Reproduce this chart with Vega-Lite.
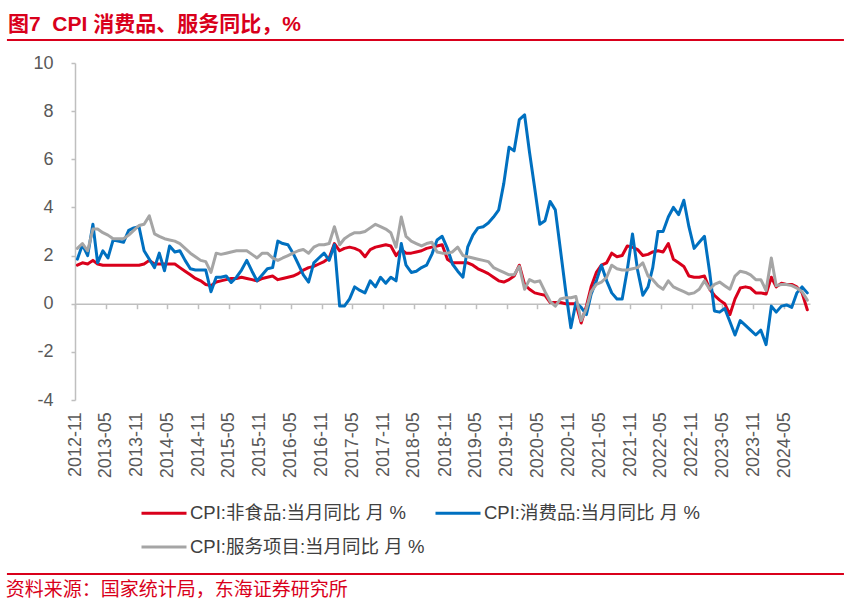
{
  "$schema": "https://vega.github.io/schema/vega-lite/v6.json",
  "width": 735,
  "height": 337,
  "autosize": {"type": "none"},
  "padding": {"left": 75, "top": 63, "right": 42, "bottom": 207},
  "background": "white",
  "config": {
    "view": {"stroke": null},
    "font": "Liberation Sans, Noto Sans CJK SC, sans-serif"
  },
  "title": {
    "text": "图7\u00a0 CPI 消费品、服务同比，%",
    "anchor": "start",
    "frame": "group",
    "dx": -67,
    "offset": 4,
    "fontSize": 21,
    "fontWeight": "bold",
    "color": "#d9001b",
    "font": "Liberation Sans, Noto Sans CJK SC, sans-serif"
  },
  "resolve": {"axis": {"x": "independent", "y": "independent"}},
  "layer": [
    {
      "data": {
        "values": [
          {"date": "2012-11-15", "非食品": 1.6, "消费品": 1.85, "服务项目": 2.3},
          {"date": "2012-12-15", "非食品": 1.7, "消费品": 2.45, "服务项目": 2.5},
          {"date": "2013-01-15", "非食品": 1.65, "消费品": 2.0, "服务项目": 2.2},
          {"date": "2013-02-15", "非食品": 1.8, "消费品": 3.3, "服务项目": 3.1},
          {"date": "2013-03-15", "非食品": 1.65, "消费品": 1.7, "服务项目": 3.1},
          {"date": "2013-04-15", "非食品": 1.6, "消费品": 2.2, "服务项目": 2.95},
          {"date": "2013-05-15", "非食品": 1.6, "消费品": 1.9, "服务项目": 2.85},
          {"date": "2013-06-15", "非食品": 1.6, "消费品": 2.65, "服务项目": 2.7},
          {"date": "2013-07-15", "非食品": 1.6, "消费品": 2.6, "服务项目": 2.7},
          {"date": "2013-08-15", "非食品": 1.6, "消费品": 2.55, "服务项目": 2.7},
          {"date": "2013-09-15", "非食品": 1.6, "消费品": 3.05, "服务项目": 2.85},
          {"date": "2013-10-15", "非食品": 1.6, "消费品": 3.15, "服务项目": 3.05},
          {"date": "2013-11-15", "非食品": 1.6, "消费品": 3.2, "服务项目": 3.25},
          {"date": "2013-12-15", "非食品": 1.65, "消费品": 2.2, "服务项目": 3.3},
          {"date": "2014-01-15", "非食品": 1.8, "消费品": 1.85, "服务项目": 3.65},
          {"date": "2014-02-15", "非食品": 1.65, "消费品": 1.5, "服务项目": 2.9},
          {"date": "2014-03-15", "非食品": 1.65, "消费品": 2.1, "服务项目": 2.8},
          {"date": "2014-04-15", "非食品": 1.65, "消费品": 1.37, "服务项目": 2.7},
          {"date": "2014-05-15", "非食品": 1.65, "消费品": 2.4, "服务项目": 2.65},
          {"date": "2014-06-15", "非食品": 1.65, "消费品": 2.15, "服务项目": 2.6},
          {"date": "2014-07-15", "非食品": 1.5, "消费品": 2.2, "服务项目": 2.5},
          {"date": "2014-08-15", "非食品": 1.35, "消费品": 1.8, "服务项目": 2.3},
          {"date": "2014-09-15", "非食品": 1.2, "消费品": 1.45, "服务项目": 2.1},
          {"date": "2014-10-15", "非食品": 1.05, "消费品": 1.4, "服务项目": 1.95},
          {"date": "2014-11-15", "非食品": 0.95, "消费品": 1.4, "服务项目": 1.8},
          {"date": "2014-12-15", "非食品": 0.8, "消费品": 1.4, "服务项目": 1.75},
          {"date": "2015-01-15", "非食品": 0.75, "消费品": 0.5, "服务项目": 1.3},
          {"date": "2015-02-15", "非食品": 0.9, "消费品": 1.1, "服务项目": 2.1},
          {"date": "2015-03-15", "非食品": 0.95, "消费品": 1.1, "服务项目": 2.05},
          {"date": "2015-04-15", "非食品": 1.0, "消费品": 1.15, "服务项目": 2.1},
          {"date": "2015-05-15", "非食品": 1.05, "消费品": 0.88, "服务项目": 2.15},
          {"date": "2015-06-15", "非食品": 1.05, "消费品": 1.1, "服务项目": 2.2},
          {"date": "2015-07-15", "非食品": 1.1, "消费品": 1.4, "服务项目": 2.2},
          {"date": "2015-08-15", "非食品": 1.05, "消费品": 1.8, "服务项目": 2.2},
          {"date": "2015-09-15", "非食品": 1.0, "消费品": 1.35, "服务项目": 2.05},
          {"date": "2015-10-15", "非食品": 0.95, "消费品": 0.95, "服务项目": 1.9},
          {"date": "2015-11-15", "非食品": 1.05, "消费品": 1.2, "服务项目": 2.1},
          {"date": "2015-12-15", "非食品": 1.1, "消费品": 1.45, "服务项目": 2.1},
          {"date": "2016-01-15", "非食品": 1.15, "消费品": 1.5, "服务项目": 1.9},
          {"date": "2016-02-15", "非食品": 1.0, "消费品": 2.6, "服务项目": 1.8},
          {"date": "2016-03-15", "非食品": 1.05, "消费品": 2.5, "服务项目": 1.9},
          {"date": "2016-04-15", "非食品": 1.1, "消费品": 2.45, "服务项目": 2.0},
          {"date": "2016-05-15", "非食品": 1.15, "消费品": 2.1, "服务项目": 2.1},
          {"date": "2016-06-15", "非食品": 1.25, "消费品": 1.65, "服务项目": 2.2},
          {"date": "2016-07-15", "非食品": 1.4, "消费品": 1.2, "服务项目": 2.25},
          {"date": "2016-08-15", "非食品": 1.5, "消费品": 0.9, "服务项目": 2.1},
          {"date": "2016-09-15", "非食品": 1.55, "消费品": 1.7, "服务项目": 2.35},
          {"date": "2016-10-15", "非食品": 1.65, "消费品": 1.9, "服务项目": 2.45},
          {"date": "2016-11-15", "非食品": 1.75, "消费品": 2.1, "服务项目": 2.45},
          {"date": "2016-12-15", "非食品": 1.9, "消费品": 1.8, "服务项目": 2.5},
          {"date": "2017-01-15", "非食品": 2.5, "消费品": 2.45, "服务项目": 3.2},
          {"date": "2017-02-15", "非食品": 2.2, "消费品": -0.1, "服务项目": 2.45},
          {"date": "2017-03-15", "非食品": 2.3, "消费品": -0.1, "服务项目": 2.7},
          {"date": "2017-04-15", "非食品": 2.35, "消费品": 0.2, "服务项目": 2.85},
          {"date": "2017-05-15", "非食品": 2.3, "消费品": 0.7, "服务项目": 2.95},
          {"date": "2017-06-15", "非食品": 2.2, "消费品": 0.55, "服务项目": 2.95},
          {"date": "2017-07-15", "非食品": 1.95, "消费品": 0.45, "服务项目": 3.0},
          {"date": "2017-08-15", "非食品": 2.25, "消费品": 0.95, "服务项目": 3.15},
          {"date": "2017-09-15", "非食品": 2.35, "消费品": 0.7, "服务项目": 3.3},
          {"date": "2017-10-15", "非食品": 2.4, "消费品": 1.1, "服务项目": 3.2},
          {"date": "2017-11-15", "非食品": 2.45, "消费品": 0.85, "服务项目": 3.1},
          {"date": "2017-12-15", "非食品": 2.4, "消费品": 1.1, "服务项目": 2.95},
          {"date": "2018-01-15", "非食品": 2.0, "消费品": 0.95, "服务项目": 2.35},
          {"date": "2018-02-15", "非食品": 2.25, "消费品": 2.5, "服务项目": 3.6},
          {"date": "2018-03-15", "非食品": 2.1, "消费品": 1.6, "服务项目": 2.8},
          {"date": "2018-04-15", "非食品": 2.1, "消费品": 1.3, "服务项目": 2.6},
          {"date": "2018-05-15", "非食品": 2.15, "消费品": 1.35, "服务项目": 2.5},
          {"date": "2018-06-15", "非食品": 2.2, "消费品": 1.5, "服务项目": 2.4},
          {"date": "2018-07-15", "非食品": 2.3, "消费品": 1.6, "服务项目": 2.5},
          {"date": "2018-08-15", "非食品": 2.35, "消费品": 2.05, "服务项目": 2.55},
          {"date": "2018-09-15", "非食品": 2.4, "消费品": 2.65, "服务项目": 2.15},
          {"date": "2018-10-15", "非食品": 2.45, "消费品": 2.8, "服务项目": 2.1},
          {"date": "2018-11-15", "非食品": 1.85, "消费品": 2.3, "服务项目": 2.1},
          {"date": "2018-12-15", "非食品": 1.7, "消费品": 1.65, "服务项目": 2.15},
          {"date": "2019-01-15", "非食品": 1.7, "消费品": 1.35, "服务项目": 2.35},
          {"date": "2019-02-15", "非食品": 1.7, "消费品": 1.1, "服务项目": 2.0},
          {"date": "2019-03-15", "非食品": 1.7, "消费品": 2.35, "服务项目": 1.95},
          {"date": "2019-04-15", "非食品": 1.6, "消费品": 2.85, "服务项目": 1.9},
          {"date": "2019-05-15", "非食品": 1.45, "消费品": 3.15, "服务项目": 1.85},
          {"date": "2019-06-15", "非食品": 1.35, "消费品": 3.2, "服务项目": 1.8},
          {"date": "2019-07-15", "非食品": 1.25, "消费品": 3.35, "服务项目": 1.75},
          {"date": "2019-08-15", "非食品": 1.1, "消费品": 3.6, "服务项目": 1.5},
          {"date": "2019-09-15", "非食品": 0.95, "消费品": 3.9, "服务项目": 1.4},
          {"date": "2019-10-15", "非食品": 0.9, "消费品": 5.0, "服务项目": 1.3},
          {"date": "2019-11-15", "非食品": 1.0, "消费品": 6.5, "服务项目": 1.2},
          {"date": "2019-12-15", "非食品": 1.15, "消费品": 6.35, "服务项目": 1.2},
          {"date": "2020-01-15", "非食品": 1.6, "消费品": 7.65, "服务项目": 1.55},
          {"date": "2020-02-15", "非食品": 0.8, "消费品": 7.85, "服务项目": 0.6},
          {"date": "2020-03-15", "非食品": 0.6, "消费品": 6.3, "服务项目": 1.0},
          {"date": "2020-04-15", "非食品": 0.45, "消费品": 4.8, "服务项目": 0.9},
          {"date": "2020-05-15", "非食品": 0.4, "消费品": 3.3, "服务项目": 0.95},
          {"date": "2020-06-15", "非食品": 0.35, "消费品": 3.45, "服务项目": 0.5},
          {"date": "2020-07-15", "非食品": 0.05, "消费品": 4.25, "服务项目": 0.1},
          {"date": "2020-08-15", "非食品": 0.05, "消费品": 3.9, "服务项目": -0.1},
          {"date": "2020-09-15", "非食品": 0.05, "消费品": 2.2, "服务项目": 0.2},
          {"date": "2020-10-15", "非食品": 0.0, "消费品": 0.55, "服务项目": 0.25},
          {"date": "2020-11-15", "非食品": 0.0, "消费品": -1.0, "服务项目": 0.25},
          {"date": "2020-12-15", "非食品": 0.0, "消费品": 0.05, "服务项目": 0.3},
          {"date": "2021-01-15", "非食品": -0.8, "消费品": -0.15, "服务项目": -0.7},
          {"date": "2021-02-15", "非食品": -0.1, "消费品": -0.45, "服务项目": -0.2},
          {"date": "2021-03-15", "非食品": 0.7, "消费品": 0.4, "服务项目": 0.5},
          {"date": "2021-04-15", "非食品": 1.3, "消费品": 0.95, "服务项目": 0.8},
          {"date": "2021-05-15", "非食品": 1.6, "消费品": 1.6, "服务项目": 0.9},
          {"date": "2021-06-15", "非食品": 1.7, "消费品": 0.95, "服务项目": 1.1},
          {"date": "2021-07-15", "非食品": 2.1, "消费品": 0.45, "服务项目": 1.6},
          {"date": "2021-08-15", "非食品": 1.95, "消费品": 0.2, "服务项目": 1.45},
          {"date": "2021-09-15", "非食品": 2.0, "消费品": 0.2, "服务项目": 1.4},
          {"date": "2021-10-15", "非食品": 2.4, "消费品": 1.4, "服务项目": 1.4},
          {"date": "2021-11-15", "非食品": 2.35, "消费品": 2.9, "服务项目": 1.45},
          {"date": "2021-12-15", "非食品": 2.25, "消费品": 1.4, "服务项目": 1.5},
          {"date": "2022-01-15", "非食品": 2.0, "消费品": 0.35, "服务项目": 1.7},
          {"date": "2022-02-15", "非食品": 2.05, "消费品": 0.7, "服务项目": 1.15},
          {"date": "2022-03-15", "非食品": 2.15, "消费品": 1.5, "服务项目": 1.0},
          {"date": "2022-04-15", "非食品": 2.2, "消费品": 3.0, "服务项目": 0.75},
          {"date": "2022-05-15", "非食品": 2.15, "消费品": 3.0, "服务项目": 0.6},
          {"date": "2022-06-15", "非食品": 2.5, "消费品": 3.6, "服务项目": 0.95},
          {"date": "2022-07-15", "非食品": 1.85, "消费品": 4.0, "服务项目": 0.7},
          {"date": "2022-08-15", "非食品": 1.7, "消费品": 3.7, "服务项目": 0.6},
          {"date": "2022-09-15", "非食品": 1.55, "消费品": 4.3, "服务项目": 0.5},
          {"date": "2022-10-15", "非食品": 1.15, "消费品": 3.2, "服务项目": 0.4},
          {"date": "2022-11-15", "非食品": 1.1, "消费品": 2.3, "服务项目": 0.45},
          {"date": "2022-12-15", "非食品": 1.1, "消费品": 2.55, "服务项目": 0.6},
          {"date": "2023-01-15", "非食品": 1.15, "消费品": 2.8, "服务项目": 0.95},
          {"date": "2023-02-15", "非食品": 0.6, "消费品": 1.3, "服务项目": 0.6},
          {"date": "2023-03-15", "非食品": 0.35, "消费品": -0.3, "服务项目": 0.8},
          {"date": "2023-04-15", "非食品": 0.15, "消费品": -0.35, "服务项目": 0.9},
          {"date": "2023-05-15", "非食品": 0.0, "消费品": -0.2, "服务项目": 0.75},
          {"date": "2023-06-15", "非食品": -0.45, "消费品": -0.75, "服务项目": 0.6},
          {"date": "2023-07-15", "非食品": 0.2, "消费品": -1.3, "服务项目": 1.15},
          {"date": "2023-08-15", "非食品": 0.65, "消费品": -0.7, "服务项目": 1.35},
          {"date": "2023-09-15", "非食品": 0.7, "消费品": -0.9, "服务项目": 1.3},
          {"date": "2023-10-15", "非食品": 0.65, "消费品": -1.1, "服务项目": 1.2},
          {"date": "2023-11-15", "非食品": 0.45, "消费品": -1.3, "服务项目": 1.0},
          {"date": "2023-12-15", "非食品": 0.45, "消费品": -1.1, "服务项目": 1.0},
          {"date": "2024-01-15", "非食品": 0.4, "消费品": -1.7, "服务项目": 0.55},
          {"date": "2024-02-15", "非食品": 1.1, "消费品": -0.1, "服务项目": 1.9},
          {"date": "2024-03-15", "非食品": 0.7, "消费品": -0.35, "服务项目": 0.75},
          {"date": "2024-04-15", "非食品": 0.85, "消费品": -0.1, "服务项目": 0.8},
          {"date": "2024-05-15", "非食品": 0.8, "消费品": -0.05, "服务项目": 0.8},
          {"date": "2024-06-15", "非食品": 0.8, "消费品": -0.15, "服务项目": 0.75},
          {"date": "2024-07-15", "非食品": 0.7, "消费品": 0.45, "服务项目": 0.65},
          {"date": "2024-08-15", "非食品": 0.45, "消费品": 0.7, "服务项目": 0.5},
          {"date": "2024-09-15", "非食品": -0.25, "消费品": 0.45, "服务项目": 0.15}
        ]
      },
      "transform": [{"fold": ["非食品", "消费品", "服务项目"], "as": ["series", "value"]}],
      "mark": {"type": "line", "strokeWidth": 3, "strokeJoin": "round", "strokeCap": "round"},
      "encoding": {
        "x": {
          "field": "date",
          "type": "temporal",
          "scale": {"type": "utc", "domain": [1351728000000, 1727740800000]},
          "axis": {
            "title": null,
            "grid": false,
            "values": [
              1351728000000, 1367366400000, 1383264000000, 1398902400000,
              1414800000000, 1430438400000, 1446336000000, 1462060800000,
              1477958400000, 1493596800000, 1509494400000, 1525132800000,
              1541030400000, 1556668800000, 1572566400000, 1588291200000,
              1604188800000, 1619827200000, 1635724800000, 1651363200000,
              1667260800000, 1682899200000, 1698796800000, 1714521600000
            ],
            "labelExpr": "utcFormat(datum.value, '%Y-%m')",
            "labelAngle": 270,
            "labelAlign": "right",
            "labelBaseline": "middle",
            "labelFont": "Liberation Sans",
            "labelFontSize": 18,
            "labelColor": "#595959",
            "labelPadding": 103,
            "labelOverlap": false,
            "labelSeparation": 0,
            "labelFlush": false,
            "labelBound": false,
            "offset": -96.3,
            "domainColor": "#bfbfbf",
            "domainWidth": 1.5,
            "tickColor": "#bfbfbf",
            "tickWidth": 1.5,
            "tickSize": 5
          }
        },
        "y": {
          "field": "value",
          "type": "quantitative",
          "scale": {"domain": [-4, 10], "nice": false, "zero": false},
          "axis": {
            "title": null,
            "grid": false,
            "values": [-4, -2, 0, 2, 4, 6, 8, 10],
            "labelExpr": "'' + datum.value",
            "labelFont": "Liberation Sans",
            "labelFontSize": 18,
            "labelColor": "#595959",
            "labelPadding": 18,
            "domainColor": "#bfbfbf",
            "domainWidth": 1.5,
            "tickColor": "#bfbfbf",
            "tickWidth": 1.5,
            "tickSize": 4
          }
        },
        "color": {
          "field": "series",
          "type": "nominal",
          "scale": {
            "domain": ["非食品", "消费品", "服务项目"],
            "range": ["#d9001b", "#0070c0", "#a5a5a5"]
          },
          "legend": {
            "title": null,
            "orient": "none",
            "legendX": 65,
            "legendY": 426,
            "direction": "horizontal",
            "columns": 2,
            "symbolType": "stroke",
            "symbolSize": 2025,
            "symbolStrokeWidth": 3,
            "labelFont": "Liberation Sans, Noto Sans CJK SC, sans-serif",
            "labelFontSize": 18.5,
            "labelColor": "#404040",
            "labelOffset": 2,
            "labelLimit": 400,
            "columnPadding": 4,
            "rowPadding": -2,
            "labelExpr": "'CPI:' + datum.label + ':当月同比 月 %'"
          }
        }
      }
    },
    {
      "data": {"values": [{}]},
      "mark": {"type": "rule", "color": "#d9001b", "strokeWidth": 2},
      "encoding": {
        "x": {"datum": {"year": 2011, "month": 9, "date": 25, "utc": true}, "type": "temporal", "axis": null},
        "x2": {"datum": {"year": 2025, "month": 4, "date": 20, "utc": true}},
        "y": {"datum": 10.96, "type": "quantitative", "axis": null}
      }
    },
    {
      "data": {"values": [{}]},
      "mark": {"type": "rule", "color": "#d9001b", "strokeWidth": 2},
      "encoding": {
        "x": {"datum": {"year": 2011, "month": 9, "date": 25, "utc": true}, "type": "temporal", "axis": null},
        "x2": {"datum": {"year": 2025, "month": 4, "date": 20, "utc": true}},
        "y": {"datum": -11.23, "type": "quantitative", "axis": null}
      }
    },
    {
      "data": {"values": [{"note": "资料来源：国家统计局，东海证券研究所"}]},
      "mark": {
        "type": "text",
        "align": "left",
        "baseline": "middle",
        "fontSize": 19,
        "color": "#d9001b",
        "font": "Noto Sans CJK SC, sans-serif"
      },
      "encoding": {
        "x": {"datum": {"year": 2011, "month": 9, "date": 18, "utc": true}, "type": "temporal", "axis": null},
        "y": {"datum": -11.89, "type": "quantitative", "axis": null},
        "text": {"field": "note"}
      }
    }
  ]
}
